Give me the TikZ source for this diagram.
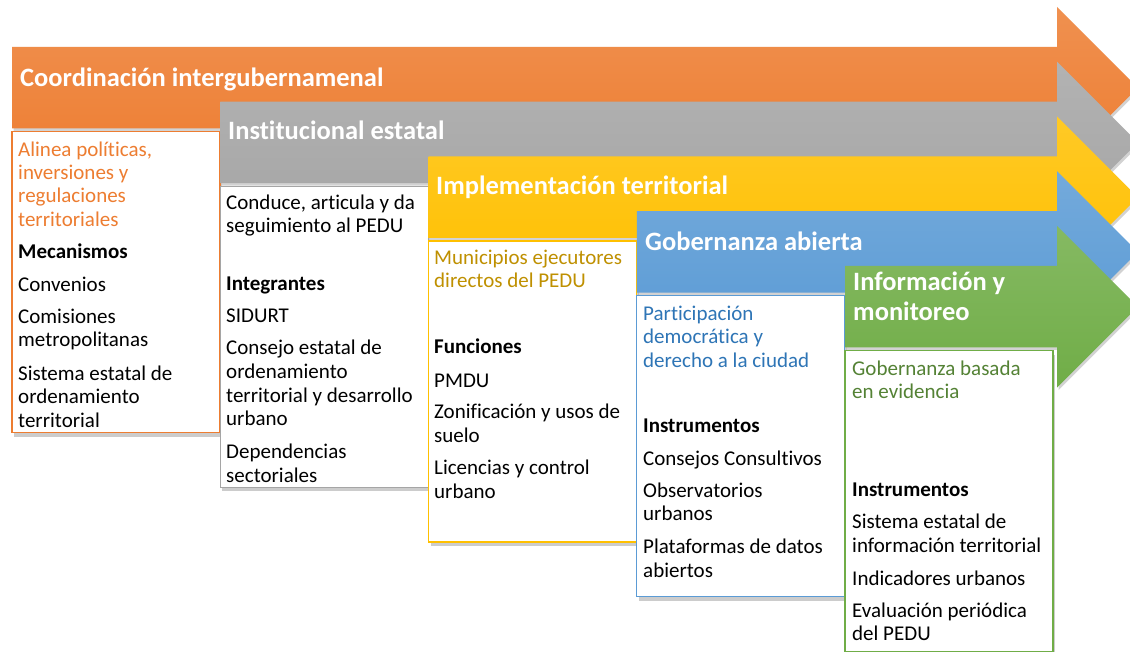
\documentclass[tikz,border=0pt]{standalone}
\usepackage{fontspec}
\setmainfont{Carlito}[Ligatures={NoCommon,NoContextual,NoRare},RawFeature={-calt}]
\usetikzlibrary{shadows}
\definecolor{cOr}{HTML}{ED7D31}
\definecolor{cGy}{HTML}{A5A5A5}
\definecolor{cYe}{HTML}{FFC000}
\definecolor{cBl}{HTML}{5B9BD5}
\definecolor{cGn}{HTML}{70AD47}
\definecolor{tOr}{HTML}{ED7D31}
\definecolor{tYe}{HTML}{BF9000}
\definecolor{tBl}{HTML}{2E75B6}
\definecolor{tGn}{HTML}{548235}
\begin{document}
\begin{tikzpicture}[x=1pt,y=-1pt,
  arrowbody/.style={drop shadow={shadow xshift=1.5pt,shadow yshift=-2.5pt,opacity=.35}},
  boxst/.style={fill=white,line width=1.2pt,drop shadow={shadow xshift=2pt,shadow yshift=-4pt,opacity=.4}},
  title/.style={anchor=base west,inner sep=0pt,text=white,font=\fontsize{26.5}{29}\selectfont\bfseries},
  body/.style={anchor=base west,inner sep=0pt,text=black,font=\fontsize{21}{23.3}\selectfont},
  head/.style={body,font=\fontsize{21}{23.3}\selectfont\bfseries}]
\useasboundingbox (0,0) rectangle (1130,652);
\clip (0,0) rectangle (1130,652);
\fill[white] (0,0) rectangle (1130,652);
\foreach \i/\c in {0/cOr,1/cGy,2/cYe,3/cBl,4/cGn}{
  \pgfmathsetmacro\L{12+208.25*\i}
  \pgfmathsetmacro\T{47+54.75*\i}
  \pgfmathsetmacro\B{\T+81.5}
  \pgfmathsetmacro\M{\T+40.75}
  \pgfmathsetmacro\Ht{\T-40}
  \pgfmathsetmacro\Hb{\B+40}
  \pgfmathsetmacro\Bt{\B+3}
  \pgfmathsetmacro\Bb{\B+304}
  \pgfmathsetmacro\R{\L+208}
  \path[arrowbody,top color=\c!85!white,bottom color=\c]
    (\L,\T) -- (1057,\T) -- (1057,\Ht) -- (1137.75,\M) -- (1057,\Hb) -- (1057,\B) -- (\L,\B) -- cycle;
  \draw[boxst,draw=\c] (\L,\Bt) rectangle (\R,\Bb);
}
% titles
\node[title] (t1) at (20,87) {Coordinación intergubernamenal};
\node[title] (t2) at (228,140) {Institucional estatal};
\node[title] (t3) at (436,195) {Implementación territorial};
\node[title] (t4) at (645,251) {Gobernanza abierta};
\node[title] (t5) at (853,291) {Información y};
\node[title] (t6) at (853,320) {monitoreo};
% orange box
\node[body,text=tOr] (o1) at (18,157) {Alinea políticas,};
\node[body,text=tOr] (o2) at (18,180) {inversiones y};
\node[body,text=tOr] (o3) at (18,203) {regulaciones};
\node[body,text=tOr] (o4) at (18,227) {territoriales};
\node[head] (o5) at (18,259) {Mecanismos};
\node[body] (o6) at (18,292) {Convenios};
\node[body] (o7) at (18,324) {Comisiones};
\node[body] (o8) at (18,347) {metropolitanas};
\node[body] (o9) at (18,380) {Sistema estatal de};
\node[body] (o10) at (18,403) {ordenamiento};
\node[body] (o11) at (18,427) {territorial};
% gray box
\node[body] (g1) at (226,210) {Conduce, articula y da};
\node[body] (g2) at (226,233) {seguimiento al PEDU};
\node[head] (g3) at (226,291) {Integrantes};
\node[body] (g4) at (226,323) {SIDURT};
\node[body] (g5) at (226,355) {Consejo estatal de};
\node[body] (g6) at (226,378) {ordenamiento};
\node[body] (g7) at (226,402) {territorial y desarrollo};
\node[body] (g8) at (226,425) {urbano};
\node[body] (g9) at (226,458) {Dependencias};
\node[body] (g10) at (226,482) {sectoriales};
% yellow box
\node[body,text=tYe] (y1) at (434,265) {Municipios ejecutores};
\node[body,text=tYe] (y2) at (434,288) {directos del PEDU};
\node[head] (y3) at (434,353) {Funciones};
\node[body] (y4) at (434,387) {PMDU};
\node[body] (y5) at (434,418) {Zonificación y usos de};
\node[body] (y6) at (434,442) {suelo};
\node[body] (y7) at (434,474) {Licencias y control};
\node[body] (y8) at (434,498) {urbano};
% blue box
\node[body,text=tBl] (b1) at (643,320) {Participación};
\node[body,text=tBl] (b2) at (643,344) {democrática y};
\node[body,text=tBl] (b3) at (643,367) {derecho a la ciudad};
\node[head] (b4) at (643,432) {Instrumentos};
\node[body] (b5) at (643,465) {Consejos Consultivos};
\node[body] (b6) at (643,497) {Observatorios};
\node[body] (b7) at (643,520) {urbanos};
\node[body] (b8) at (643,553) {Plataformas de datos};
\node[body] (b9) at (643,577) {abiertos};
% green box
\node[body,text=tGn] (n1) at (852,375) {Gobernanza basada};
\node[body,text=tGn] (n2) at (852,398) {en evidencia};
\node[head] (n3) at (852,496) {Instrumentos};
\node[body] (n4) at (852,528) {Sistema estatal de};
\node[body] (n5) at (852,552) {información territorial};
\node[body] (n6) at (852,585) {Indicadores urbanos};
\node[body] (n7) at (852,617) {Evaluación periódica};
\node[body] (n8) at (852,640) {del PEDU};
\end{tikzpicture}
\end{document}
